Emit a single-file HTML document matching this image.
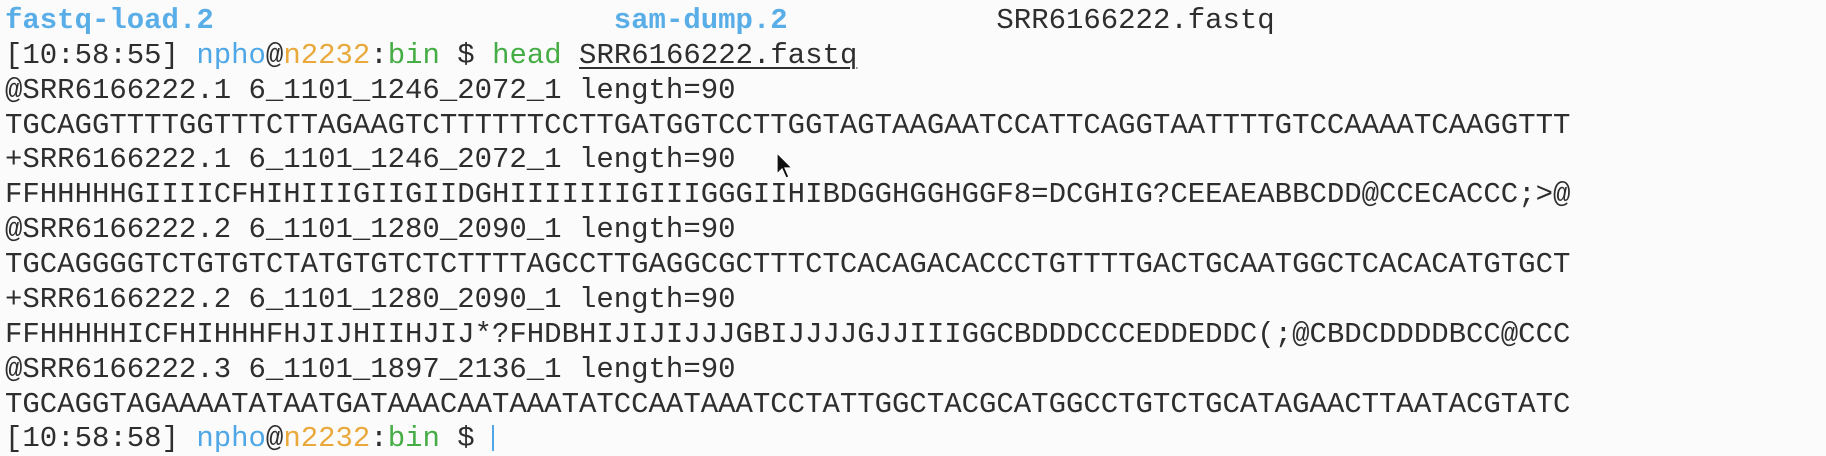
<!DOCTYPE html>
<html><head><meta charset="utf-8"><style>
body{margin:0;width:1826px;height:450px;background:#fbfbfb;overflow:hidden;position:relative;font-family:"Liberation Mono",monospace;}
.l{position:absolute;left:5px;height:35px;line-height:35px;font-size:29px;color:#2e2e2e;white-space:pre;letter-spacing:-0.01px}
.b{color:#4fa7e6}.o{color:#e9a93c}.g{color:#46ad46}.bb{color:#5aaee8;font-weight:bold}
.u{text-decoration:underline;text-decoration-thickness:2px;text-underline-offset:4px}
</style></head><body>
<div class="l" style="top:3px"><span class="bb">fastq-load.2</span>                       <span class="bb">sam-dump.2</span>            SRR6166222.fastq</div>
<div class="l" style="top:38px">[10:58:55] <span class="b">npho</span>@<span class="o">n2232</span>:<span class="g">bin</span> $ <span class="g">head</span> <span class="u">SRR6166222.fastq</span></div>
<div class="l" style="top:73px">@SRR6166222.1 6_1101_1246_2072_1 length=90</div>
<div class="l" style="top:108px">TGCAGGTTTTGGTTTCTTAGAAGTCTTTTTTCCTTGATGGTCCTTGGTAGTAAGAATCCATTCAGGTAATTTTGTCCAAAATCAAGGTTT</div>
<div class="l" style="top:142px">+SRR6166222.1 6_1101_1246_2072_1 length=90</div>
<div class="l" style="top:177px">FFHHHHHGIIIICFHIHIIIGIIGIIDGHIIIIIIIGIIIGGGIIHIBDGGHGGHGGF8=DCGHIG?CEEAEABBCDD@CCECACCC;&gt;@</div>
<div class="l" style="top:212px">@SRR6166222.2 6_1101_1280_2090_1 length=90</div>
<div class="l" style="top:247px">TGCAGGGGTCTGTGTCTATGTGTCTCTTTTAGCCTTGAGGCGCTTTCTCACAGACACCCTGTTTTGACTGCAATGGCTCACACATGTGCT</div>
<div class="l" style="top:282px">+SRR6166222.2 6_1101_1280_2090_1 length=90</div>
<div class="l" style="top:317px">FFHHHHHICFHIHHHFHJIJHIIHJIJ*?FHDBHIJIJIJJJGBIJJJJGJJIIIGGCBDDDCCCEDDEDDC(;@CBDCDDDDBCC@CCC</div>
<div class="l" style="top:352px">@SRR6166222.3 6_1101_1897_2136_1 length=90</div>
<div class="l" style="top:387px">TGCAGGTAGAAAATATAATGATAAACAATAAATATCCAATAAATCCTATTGGCTACGCATGGCCTGTCTGCATAGAACTTAATACGTATC</div>
<div class="l" style="top:421px">[10:58:58] <span class="b">npho</span>@<span class="o">n2232</span>:<span class="g">bin</span> $ <span style="display:inline-block;width:2px;height:26px;background:#4fa7e6;vertical-align:middle"></span></div>
<svg style="position:absolute;left:776px;top:152px" width="20" height="30"><path d="M1 1 L1 22 L6 17 L10 26 L13 25 L9 16 L16 16 Z" fill="#111" stroke="#fff" stroke-width="1.2"/></svg>
</body></html>
